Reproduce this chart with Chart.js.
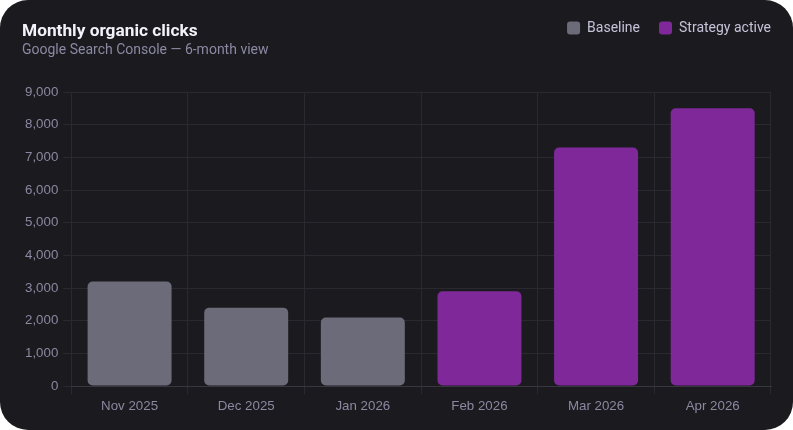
<!DOCTYPE html>
<html>
<head>
<meta charset="utf-8">
<script src="https://cdn.jsdelivr.net/npm/chart.js@4"></script>
<style>
  html,body{margin:0;padding:0;background:#ffffff;}
  #card{position:relative;width:793px;height:430px;background:#1b1a1f;border-radius:28px;overflow:hidden;font-family:Roboto, "Noto Sans", sans-serif;}
  #title{position:absolute;left:22px;top:20px;color:#f3f1fa;font-size:17.3px;font-weight:700;}
  #sub{position:absolute;left:22px;top:41px;color:#8b89a3;font-size:14px;}
  canvas{position:absolute;left:0;top:0;}
</style>
</head>
<body>
<div id="card">
  <canvas id="c" width="793" height="430"></canvas>
  <div id="title">Monthly organic clicks</div>
  <div id="sub">Google Search Console — 6-month view</div>
</div>
<script>
const categories = ["Nov 2025","Dec 2025","Jan 2026","Feb 2026","Mar 2026","Apr 2026"];
const baselineValues = [3200, 2400, 2100, null, null, null];
const strategyValues = [null, null, null, 2900, 7300, 8500];
const yTicks = [0,1000,2000,3000,4000,5000,6000,7000,8000,9000];

const LEG_PAD = 19;
const TICK_FONT = {family:"'Liberation Sans', Arial, sans-serif", size:13.3};
const legendSpace = {
  id:'legendSpace',
  beforeInit(chart){
    const orig = chart.legend.fit;
    chart.legend.fit = function(){ orig.bind(chart.legend)(); this.height += 47; };
  },
  afterLayout(chart){
    chart.legend.left += LEG_PAD;
    chart.legend.right += LEG_PAD;
  }
};

new Chart(document.getElementById('c'), {
  type:'bar',
  data:{
    labels:categories,
    datasets:[
      {label:'Baseline', data:baselineValues, backgroundColor:'#6c6b7a', borderRadius:5, borderSkipped:false, grouped:false},
      {label:'Strategy active', data:strategyValues, backgroundColor:'#7f2899', borderRadius:5, borderSkipped:false, grouped:false}
    ]
  },
  options:{
    responsive:false,
    animation:false,
    layout:{padding:{top:2,left:20,right:22,bottom:12}},
    plugins:{
      legend:{
        position:'top', align:'end',
        labels:{
          color:'#c6c3d8', font:{family:'Roboto', size:14},
          boxWidth:13, boxHeight:13, useBorderRadius:true, borderRadius:3, padding:LEG_PAD
        }
      },
      tooltip:{enabled:false}
    },
    scales:{
      x:{
        grid:{color:'#2a292f', offset:true, tickLength:8},
        border:{color:'#38373f'},
        ticks:{color:'#8b88a0', font:TICK_FONT, padding:4}
      },
      y:{
        min:0, max:9000,
        afterBuildTicks(axis){ axis.ticks = yTicks.map(v=>({value:v})); },
        grid:{color:'#2a292f', tickLength:8},
        border:{display:false},
        ticks:{color:'#8b88a0', font:TICK_FONT, padding:5,
          callback:v=>v.toLocaleString('en-US')}
      }
    }
  },
  plugins:[legendSpace]
});
</script>
</body>
</html>
